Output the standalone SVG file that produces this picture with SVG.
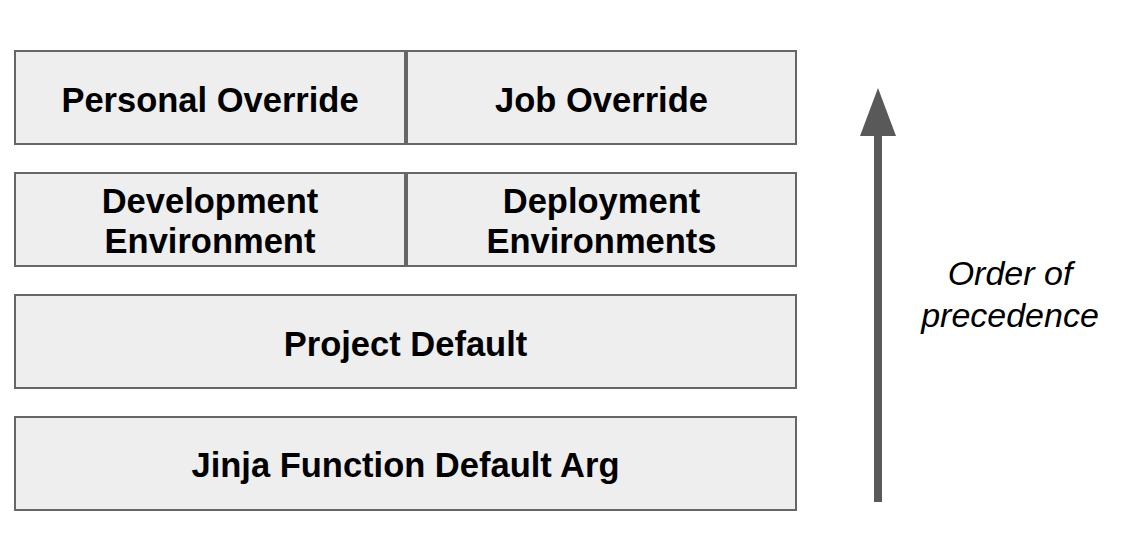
<svg xmlns="http://www.w3.org/2000/svg" width="1144" height="538" viewBox="0 0 1144 538">
<style>
.box{fill:#eeeeee;stroke:#666666;stroke-width:2}
.lbl{font-family:"Liberation Sans",Arial,sans-serif;font-weight:bold;font-size:34.5px;fill:#000;text-anchor:middle}
.note{font-family:"Liberation Sans",Arial,sans-serif;font-style:italic;font-size:34px;fill:#000;text-anchor:middle}
</style>
<rect x="0" y="0" width="1144" height="538" fill="#ffffff"/>
<g id="personal-override"><rect class="box" x="15" y="51" width="390" height="93"/><text class="lbl" x="210" y="111.5">Personal Override</text></g>
<g id="job-override"><rect class="box" x="407" y="51" width="389" height="93"/><text class="lbl" x="601.5" y="111.5">Job Override</text></g>
<g id="development-environment"><rect class="box" x="15" y="173" width="390" height="93"/><text class="lbl" x="210" y="213">Development</text><text class="lbl" x="210" y="253">Environment</text></g>
<g id="deployment-environments"><rect class="box" x="407" y="173" width="389" height="93"/><text class="lbl" x="601.5" y="213">Deployment</text><text class="lbl" x="601.5" y="253">Environments</text></g>
<g id="project-default"><rect class="box" x="15" y="295" width="781" height="93"/><text class="lbl" x="405.5" y="355.5">Project Default</text></g>
<g id="jinja-default"><rect class="box" x="15" y="417" width="781" height="93"/><text class="lbl" x="405.5" y="477">Jinja Function Default Arg</text></g>
<g id="connectors">
<line x1="878" y1="502" x2="878" y2="134" stroke="#595959" stroke-width="8"/>
<polygon points="878,88 896,136 860,136" fill="#595959"/>
</g>
<g id="precedence-label"><text class="note" x="1010" y="285">Order of</text><text class="note" x="1010" y="327">precedence</text></g>
</svg>
